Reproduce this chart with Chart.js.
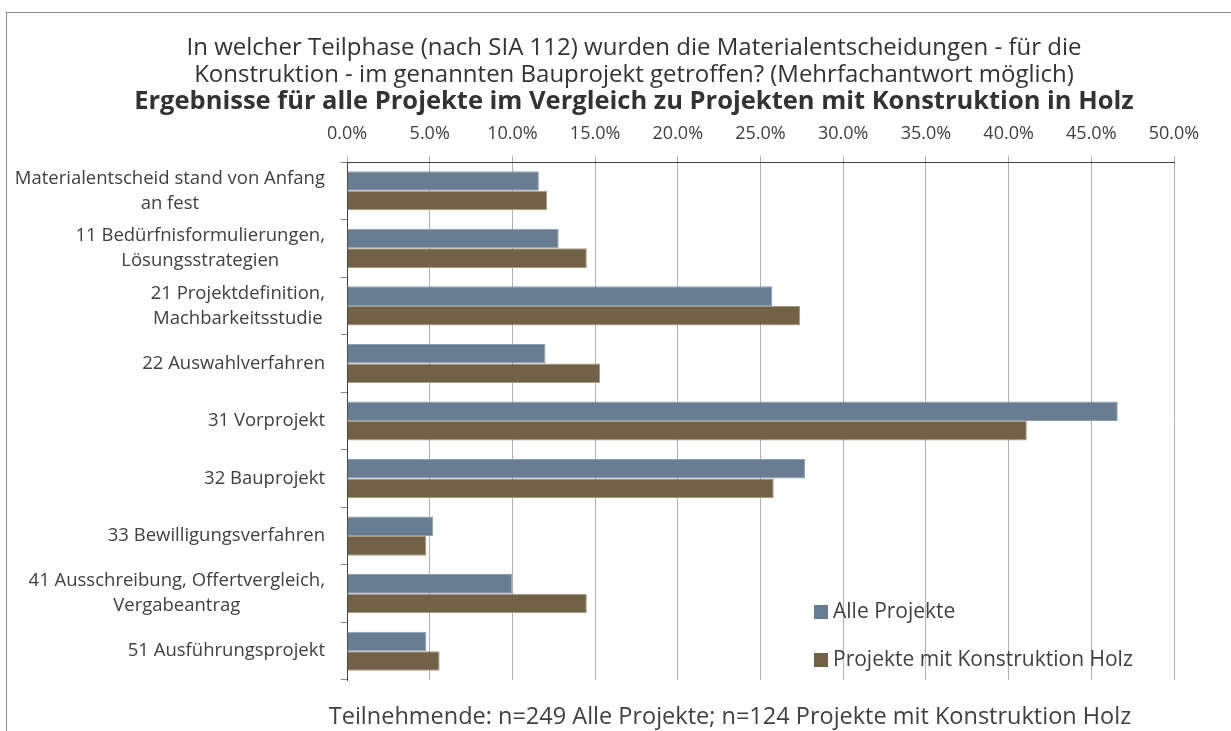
<!DOCTYPE html>
<html>
<head>
<meta charset="utf-8">
<script src="https://cdn.jsdelivr.net/npm/chart.js@4.4.1/dist/chart.umd.min.js"></script>
<style>
  html, body { margin: 0; padding: 0; background: #fff; }
  body { width: 1231px; height: 731px; position: relative; overflow: hidden; font-family: "Open Sans", sans-serif; color: #404040; }
  #frame { position: absolute; left: 6px; top: 12px; width: 1300px; height: 800px; border: 1px solid #8c8c8c; box-sizing: border-box; }
  #wrap { position: absolute; left: 0; top: 0; width: 1231px; height: 731px; }
  #titel { position: absolute; left: 0; top: 32px; width: 1268px; text-align: center; font-size: 24px; line-height: 27px; color: #333; }
  #titel b { font-weight: 700; font-size: 25.5px; }
  #fuss { position: absolute; left: 0; top: 700px; width: 1460px; text-align: center; font-size: 23.5px; line-height: 30px; color: #404040; }
</style>
</head>
<body>
<div id="frame"></div>
<div id="wrap"><canvas id="chart" width="1231" height="731"></canvas></div>
<div id="titel">In welcher Teilphase (nach SIA 112) wurden die Materialentscheidungen - für die<br>Konstruktion - im genannten Bauprojekt getroffen? (Mehrfachantwort möglich)<br><b>Ergebnisse für alle Projekte im Vergleich zu Projekten mit Konstruktion in Holz</b></div>
<div id="fuss">Teilnehmende: n=249 Alle Projekte; n=124 Projekte mit Konstruktion Holz</div>
<script>
// Kategorien (Teilphasen nach SIA 112)
const phasen = [
    ['Materialentscheid stand von Anfang', 'an fest'],
    ['11 Bedürfnisformulierungen,', 'Lösungsstrategien'],
    ['21 Projektdefinition,', 'Machbarkeitsstudie'],
    '22 Auswahlverfahren',
    '31 Vorprojekt',
    '32 Bauprojekt',
    '33 Bewilligungsverfahren',
    ['41 Ausschreibung, Offertvergleich,', 'Vergabeantrag'],
    '51 Ausführungsprojekt'
];

// Anteile in %
const alleProjekte = [11.6, 12.8, 25.7, 12.0, 46.6, 27.7, 5.2, 10.0, 4.8];
const holzProjekte = [12.1, 14.5, 27.4, 15.3, 41.1, 25.8, 4.8, 14.5, 5.6];

const serienNamen = ['Alle Projekte', 'Projekte mit Konstruktion Holz'];
const achseMax = 50;
const achseSchritt = 5;

const schrift = '"Open Sans", sans-serif';

// eigene Beschriftung der Kategorien: Block rechtsbündig, Zeilen zentriert
const kategorieLabels = {
    id: 'kategorieLabels',
    afterDraw(chart) {
        const ctx = chart.ctx;
        const y = chart.scales.y;
        const rechts = chart.chartArea.left - 22;
        ctx.save();
        ctx.font = '18.5px ' + schrift;
        ctx.fillStyle = '#404040';
        ctx.textAlign = 'center';
        ctx.textBaseline = 'middle';
        phasen.forEach((lab, i) => {
            const zeilen = Array.isArray(lab) ? lab : [lab];
            const breite = Math.max(...zeilen.map(z => ctx.measureText(z).width));
            const mitte = y.getPixelForTick(i);
            const lh = 25;
            zeilen.forEach((z, k) => {
                ctx.fillText(z, rechts - breite / 2, mitte + (k - (zeilen.length - 1) / 2) * lh);
            });
        });
        ctx.restore();
    }
};

// Legende unten rechts im Diagramm
const legendeInnen = {
    id: 'legendeInnen',
    afterDatasetsDraw(chart) {
        const ctx = chart.ctx;
        const a = chart.chartArea;
        const x = a.right - 360;
        const ys = [a.bottom - 68, a.bottom - 20];
        ctx.save();
        ctx.font = '21px ' + schrift;
        ctx.textBaseline = 'middle';
        ctx.textAlign = 'left';
        chart.data.datasets.forEach((ds, i) => {
            ctx.fillStyle = ds.backgroundColor;
            ctx.fillRect(x, ys[i] - 7, 14, 14);
            ctx.fillStyle = '#404040';
            ctx.fillText(ds.label, x + 19, ys[i]);
        });
        ctx.restore();
    }
};

new Chart(document.getElementById('chart'), {
    type: 'bar',
    data: {
        labels: phasen,
        datasets: [
            { label: serienNamen[0], data: alleProjekte, backgroundColor: '#687d91', borderColor: '#8e9fb0', borderWidth: 1, borderSkipped: 'start' },
            { label: serienNamen[1], data: holzProjekte, backgroundColor: '#716146', borderColor: '#a89a80', borderWidth: 1, borderSkipped: 'start' }
        ]
    },
    options: {
        indexAxis: 'y',
        responsive: false,
        animation: false,
        maintainAspectRatio: false,
        layout: { padding: { top: 110, right: 57, bottom: 51, left: 0 } },
        datasets: { bar: { categoryPercentage: 0.68, barPercentage: 1.0 } },
        plugins: {
            legend: { display: false },
            tooltip: { enabled: false }
        },
        scales: {
            x: {
                position: 'top',
                min: 0,
                max: achseMax,
                afterFit(s) { s.height = 52; },
                ticks: {
                    stepSize: achseSchritt,
                    padding: 11,
                    color: '#404040',
                    font: { family: schrift, size: 18 },
                    callback: v => v.toFixed(1) + '%'
                },
                grid: { color: '#b0b0b0', tickLength: 6, tickColor: '#b0b0b0' },
                border: { color: '#404040', width: 1 }
            },
            y: {
                afterFit(s) { s.width = 347; },
                ticks: { color: 'rgba(0,0,0,0)', font: { family: schrift, size: 16 } },
                grid: { drawOnChartArea: false, tickLength: 6, color: '#808080', offset: true },
                border: { color: '#404040', width: 1 }
            }
        }
    },
    plugins: [kategorieLabels, legendeInnen]
});
</script>
</body>
</html>
